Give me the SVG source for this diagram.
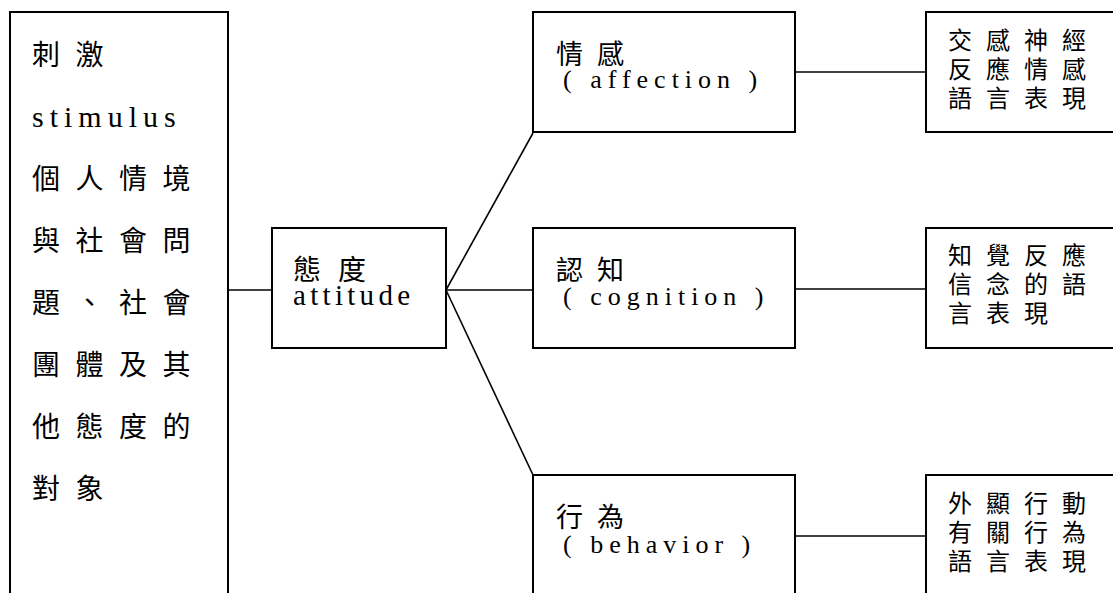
<svg xmlns="http://www.w3.org/2000/svg" width="1113" height="593" viewBox="0 0 1113 593">
<style>
.box{fill:#fff;stroke:#000;stroke-width:2}
.ln{stroke:#000;stroke-width:1.6;fill:none}
.cjk{font-family:"Noto Sans CJK TC","Noto Sans CJK SC",sans-serif;fill:#000}
.big{font-size:28px;letter-spacing:15.5px}
.mid{font-size:27px;letter-spacing:14px}
.sm{font-size:24px;letter-spacing:14px}
.lat{font-family:"Times New Roman","Liberation Serif","DejaVu Serif",serif;fill:#000}
.par{font-size:26px;letter-spacing:6px}
</style>
<rect width="1113" height="593" fill="#fff"/>
<g id="connectors">
<line class="ln" x1="228" y1="290" x2="272" y2="290"/>
<line class="ln" x1="446" y1="290" x2="533" y2="133"/>
<line class="ln" x1="446" y1="290" x2="533" y2="290"/>
<line class="ln" x1="446" y1="290" x2="533" y2="475"/>
<line class="ln" x1="795" y1="72" x2="926" y2="72"/>
<line class="ln" x1="795" y1="289" x2="926" y2="289"/>
<line class="ln" x1="795" y1="536" x2="926" y2="536"/>
</g>
<g id="stimulus">
<rect class="box" x="10" y="12" width="218" height="600"/>
<text class="cjk big" x="32" y="65">刺激</text>
<text class="lat" x="32" y="127" style="font-size:30px;letter-spacing:6px">stimulus</text>
<text class="cjk big" x="32" y="189">個人情境</text>
<text class="cjk big" x="32" y="251">與社會問</text>
<text class="cjk big" x="32" y="313">題、社會</text>
<text class="cjk big" x="32" y="375">團體及其</text>
<text class="cjk big" x="32" y="437">他態度的</text>
<text class="cjk big" x="32" y="499">對象</text>
</g>
<g id="attitude">
<rect class="box" x="272" y="228" width="174" height="120"/>
<text class="cjk" x="293" y="280" style="font-size:28px;letter-spacing:17px">態度</text>
<text class="lat" x="293" y="305" style="font-size:29px;letter-spacing:4.3px">attitude</text>
</g>
<g id="affection">
<rect class="box" x="533" y="12" width="262" height="120"/>
<text class="cjk mid" x="556" y="64">情感</text>
<text class="lat par" x="563" y="88">( affection )</text>
</g>
<g id="cognition">
<rect class="box" x="533" y="228" width="262" height="120"/>
<text class="cjk mid" x="556" y="280">認知</text>
<text class="lat par" x="563" y="305">( cognition )</text>
</g>
<g id="behavior">
<rect class="box" x="533" y="475" width="262" height="140"/>
<text class="cjk mid" x="556" y="527">行為</text>
<text class="lat par" x="563" y="553">( behavior )</text>
</g>
<g id="affection-detail">
<rect class="box" x="926" y="12" width="200" height="120"/>
<text class="cjk sm" x="948" y="49">交感神經</text>
<text class="cjk sm" x="948" y="78">反應情感</text>
<text class="cjk sm" x="948" y="107">語言表現</text>
</g>
<g id="cognition-detail">
<rect class="box" x="926" y="228" width="200" height="120"/>
<text class="cjk sm" x="948" y="264">知覺反應</text>
<text class="cjk sm" x="948" y="293">信念的語</text>
<text class="cjk sm" x="948" y="322">言表現</text>
</g>
<g id="behavior-detail">
<rect class="box" x="926" y="475" width="200" height="140"/>
<text class="cjk sm" x="948" y="512">外顯行動</text>
<text class="cjk sm" x="948" y="541">有關行為</text>
<text class="cjk sm" x="948" y="570">語言表現</text>
</g>
</svg>
